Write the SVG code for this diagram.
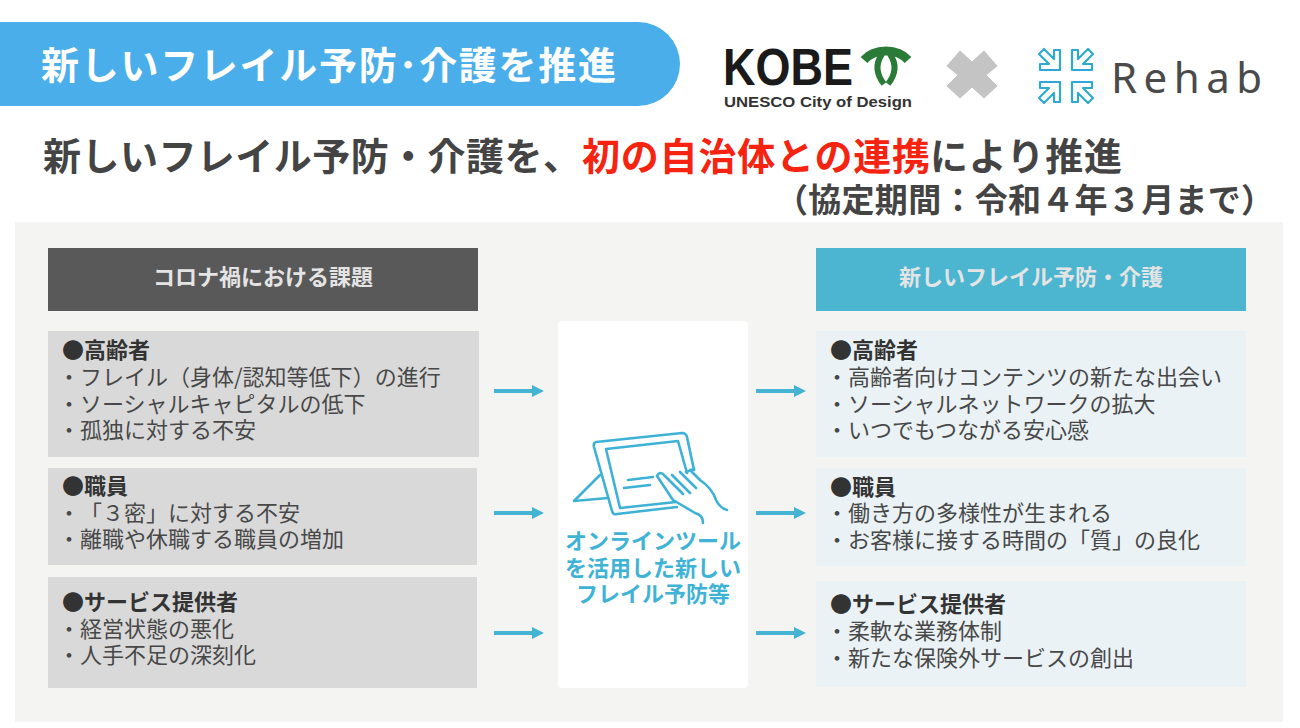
<svg xmlns="http://www.w3.org/2000/svg" width="1300" height="728" viewBox="0 0 1300 728">
<style>
text{font-family:"Noto Sans CJK JP","Noto Sans",sans-serif;text-spacing-trim:space-all}
.b{font-size:22px;fill:#484848;font-weight:400}
.h{font-size:22px;fill:#333;font-weight:700}
.hd{font-size:22px;font-weight:700;fill:#e4e4e4;text-anchor:middle}
.g{fill:#d9d9d9}.l{fill:#eaf2f5}
.ar{stroke:#45b4d2;stroke-width:4;fill:none;marker-end:url(#m)}
.ic{fill:none;stroke:#3db2d6;stroke-width:2.6;stroke-linejoin:round;stroke-linecap:round}
.rh{fill:none;stroke:#2fa9d3;stroke-width:2.2;stroke-linejoin:round}
.t{font-size:22px;font-weight:700;fill:#3fb3d5;text-anchor:middle}
</style>
<defs><marker id="m" markerUnits="userSpaceOnUse" markerWidth="14" markerHeight="14" refX="1" refY="7" orient="auto"><path d="M1 1L13 7L1 13Z" fill="#45b4d2"/></marker>
<path id="qa" class="rh" d="M0 0H20V6H11L21 16L16 21L6 11V20H0Z"/></defs>
<rect width="1300" height="728" fill="#fff"/>
<g id="banner"><path d="M0 22H638a42 42 0 0 1 0 84H0Z" fill="#4aaeea"/>
<text x="41" y="79" font-size="38" font-weight="700" fill="#fff" textLength="575">新しいフレイル予防･介護を推進</text></g>
<g id="logo-kobe">
<text x="723" y="85" style="font-family:'Liberation Sans',sans-serif" font-size="51" font-weight="700" fill="#1a1a1a" textLength="130" lengthAdjust="spacingAndGlyphs">KOBE</text>
<path d="M864 60Q872 51 886 51Q900 51 908 60" fill="none" stroke="#2a7a38" stroke-width="9"/>
<path d="M882 54Q872 69 884 84M890 54Q900 69 888 84" fill="none" stroke="#2a7a38" stroke-width="6"/>
<text x="724" y="107" font-size="15.5" font-weight="700" fill="#333" style="font-family:'Liberation Sans',sans-serif" textLength="188" lengthAdjust="spacingAndGlyphs">UNESCO City of Design</text></g>
<g id="cross"><path d="M947 66L960 51L972 62L984 51L997 66L986 75L997 86L984 98L972 87L960 98L947 86L958 75Z" fill="#c4c4c4" stroke="#c4c4c4" stroke-width="1" stroke-linejoin="round"/></g>
<g id="logo-rehab">
<use href="#qa" transform="translate(1060 70) scale(-1 -1)"/>
<use href="#qa" transform="translate(1072 70) scale(1 -1)"/>
<use href="#qa" transform="translate(1060 82) scale(-1 1)"/>
<use href="#qa" transform="translate(1072 82) scale(1 1)"/>
<text x="1111" y="93" font-size="42" fill="#4a4a4a" style="font-family:'Noto Sans',sans-serif" textLength="151">Rehab</text></g>
<g id="headline">
<text x="43" y="170" font-size="38" font-weight="700" fill="#444" textLength="538">新しいフレイル予防・介護を、</text>
<text x="582" y="170" font-size="38" font-weight="700" fill="#f5230f" textLength="348">初の自治体との連携</text>
<text x="930" y="170" font-size="38" font-weight="700" fill="#444" textLength="192">により推進</text>
<text x="775" y="212" font-size="33" font-weight="700" fill="#444" textLength="499">（協定期間：令和４年３月まで）</text></g>
<rect id="panel" x="15" y="222" width="1268" height="500" fill="#f4f4f3"/>
<g id="hd-left"><rect x="48" y="248" width="430" height="63" fill="#595959"/><text class="hd" x="263" y="285">コロナ禍における課題</text></g>
<g id="hd-right"><rect x="816" y="248" width="430" height="63" fill="#4cb5d0"/><text class="hd" x="1031" y="285">新しいフレイル予防・介護</text></g>
<g id="l1"><rect class="g" x="48" y="331" width="431" height="126"/>
<text class="h" x="62" y="358">●高齢者</text><text class="b" x="58" y="385">・フレイル（身体/認知等低下）の進行</text><text class="b" x="58" y="412">・ソーシャルキャピタルの低下</text><text class="b" x="58" y="438">・孤独に対する不安</text></g>
<g id="l2"><rect class="g" x="48" y="468" width="429" height="97"/>
<text class="h" x="62" y="494">●職員</text><text class="b" x="58" y="521">・「３密」に対する不安</text><text class="b" x="58" y="547">・離職や休職する職員の増加</text></g>
<g id="l3"><rect class="g" x="48" y="577" width="429" height="111"/>
<text class="h" x="62" y="610">●サービス提供者</text><text class="b" x="58" y="637">・経営状態の悪化</text><text class="b" x="58" y="663">・人手不足の深刻化</text></g>
<g id="center"><rect x="558" y="321" width="190" height="367" rx="4" fill="#fff"/>
<path class="ic" d="M596 442L682 433Q686 433 687 437L694 470M596 442Q593 443 594 447L612 511Q613 515 617 514L677 507"/>
<path class="ic" d="M606 449L678 441L687 473M606 449L620 508L676 502"/>
<path class="ic" d="M600 475L574 501L608 498"/>
<path class="ic" d="M628 480L653 477M624 488L650 485M657 476Q660 470 665 476L683 494M672 475L690 493M680 472L696 488M690 470L700 480Q712 488 716 500Q720 508 727 510M673 500L695 513Q703 515 703 523M694 469L686 472M657 476L673 500"/>
<text class="t" x="653" y="549">オンラインツール</text><text class="t" x="653" y="576">を活用した新しい</text><text class="t" x="653" y="602">フレイル予防等</text></g>
<g id="r1"><rect class="l" x="816" y="331" width="430" height="126"/>
<text class="h" x="830" y="358">●高齢者</text><text class="b" x="826" y="385">・高齢者向けコンテンツの新たな出会い</text><text class="b" x="826" y="412">・ソーシャルネットワークの拡大</text><text class="b" x="826" y="438">・いつでもつながる安心感</text></g>
<g id="r2"><rect class="l" x="816" y="468" width="430" height="98"/>
<text class="h" x="830" y="495">●職員</text><text class="b" x="826" y="521">・働き方の多様性が生まれる</text><text class="b" x="826" y="548">・お客様に接する時間の「質」の良化</text></g>
<g id="r3"><rect class="l" x="816" y="581" width="430" height="106"/>
<text class="h" x="830" y="612">●サービス提供者</text><text class="b" x="826" y="639">・柔軟な業務体制</text><text class="b" x="826" y="666">・新たな保険外サービスの創出</text></g>
<g id="connectors">
<path class="ar" d="M494 391H532"/><path class="ar" d="M494 513H532"/><path class="ar" d="M494 633H532"/>
<path class="ar" d="M756 391H794"/><path class="ar" d="M756 513H794"/><path class="ar" d="M756 633H794"/>
</g>
</svg>
